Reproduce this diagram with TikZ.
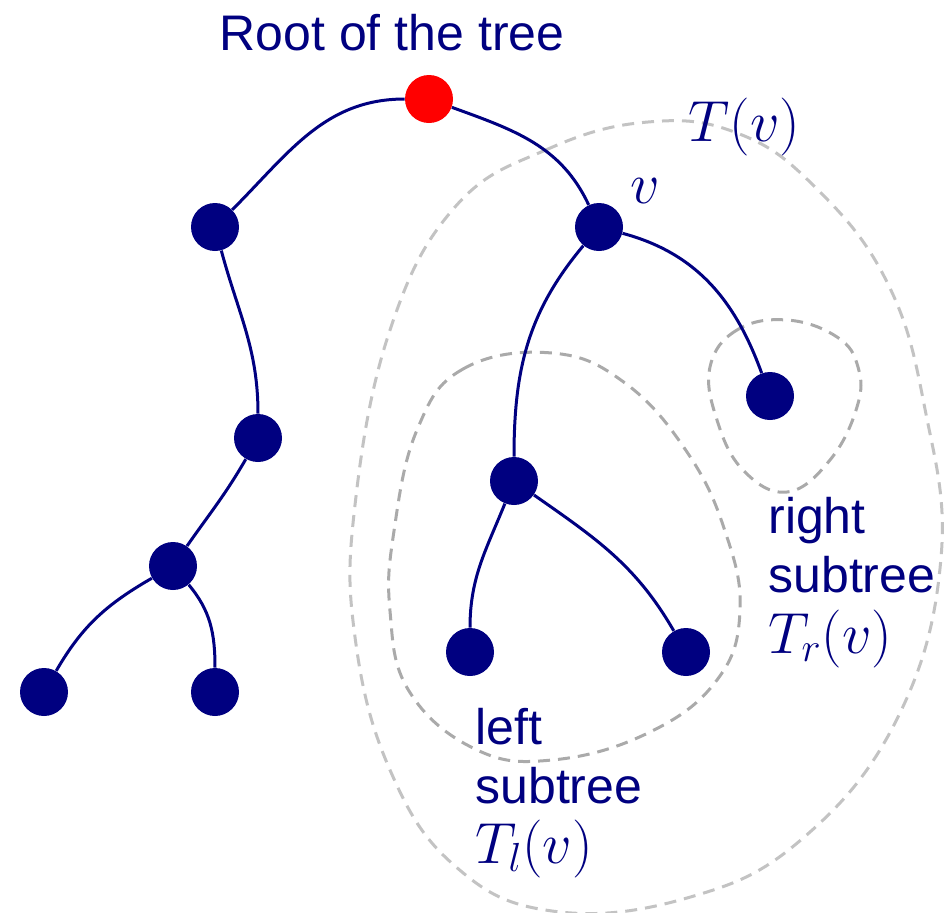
\documentclass[tikz,border=0pt]{standalone}
\usepackage{fix-cm}
\usepackage{fontspec}
\setmainfont{Liberation Sans}
\definecolor{navyc}{RGB}{0,0,128}
\definecolor{outerg}{RGB}{195,195,195}
\definecolor{innerg}{RGB}{170,170,170}
\tikzset{
  vert/.style={circle, fill=navyc, inner sep=0pt, minimum size=24pt},
  rootv/.style={circle, fill=red, inner sep=0pt, minimum size=24pt},
  edge/.style={draw=navyc, line width=1.5pt},
  region/.style={line width=1.5pt, dash pattern=on 6pt off 4pt},
  lbl/.style={text=navyc, inner sep=0pt, anchor=base west, font=\fontsize{25}{30}\selectfont},
  mlbl/.style={text=navyc, inner sep=0pt, anchor=base west, font=\fontsize{29}{30}\selectfont},
}
\begin{document}
\begin{tikzpicture}[x=0.5pt, y=-0.5pt]
\useasboundingbox (0,0) rectangle (944,912);
% dashed regions
\draw[region, draw=outerg] plot[smooth cycle, tension=0.7] coordinates {
  (648,122) (548,149) (455,207) (390,330) (355,505) (355,637) (390,770)
  (455,866) (552,911) (687,898) (802,839) (898,717) (941,558) (925,409)
  (887,282) (814,186) (737,133)};
\draw[region, draw=innerg] plot[smooth cycle, tension=0.7] coordinates {
  (552,353) (463,369) (417,430) (394,531) (390,611) (409,691) (475,749)
  (552,760) (648,733) (717,680) (740,611) (725,531) (687,452) (625,383)};
\draw[region, draw=innerg] plot[smooth cycle, tension=0.7] coordinates {
  (787,320) (737,330) (710,367) (717,420) (743,470) (787,492) (830,460)
  (857,407) (858,367) (837,337)};
% vertices
\node[rootv] (root) at (429,99) {};
\node[vert] (A) at (215,227) {};
\node[vert] (v) at (599,227) {};
\node[vert] (B) at (258,438) {};
\node[vert] (C) at (173,566) {};
\node[vert] (D) at (44,692) {};
\node[vert] (E) at (215,692) {};
\node[vert] (F) at (770,396) {};
\node[vert] (G) at (514,481) {};
\node[vert] (H) at (470,652) {};
\node[vert] (I) at (686,652) {};
% edges
\draw[edge] (root) to[out=180, in=45] (A);
\draw[edge] (root) to[out=-20, in=115] (v);
\draw[edge] (A) to[out=-75, in=90] (B);
\draw[edge] (B) to[out=-120, in=55] (C);
\draw[edge] (C) to[out=-150, in=60] (D);
\draw[edge] (C) to[out=-50, in=90] (E);
\draw[edge] (v) to[out=-130, in=90] (G);
\draw[edge] (v) to[out=-15, in=110] (F);
\draw[edge] (G) to[out=-112, in=90] (H);
\draw[edge] (G) to[out=-35, in=120] (I);
% labels
\node[lbl, anchor=base] (rootlbl) at (392,50) {Root of the tree};
\node[mlbl] (Tv) at (688,141) {$T(v)$};
\node[mlbl] (vl) at (630,203) {$v$};
\node[lbl] (r1) at (768,533) {right};
\node[lbl] (r2) at (768,592) {subtree};
\node[mlbl] (r3) at (768,653) {$T_r(v)$};
\node[lbl] (l1) at (475,744) {left};
\node[lbl] (l2) at (475,803) {subtree};
\node[mlbl] (l3) at (475,863) {$T_l(v)$};
\end{tikzpicture}
\end{document}
